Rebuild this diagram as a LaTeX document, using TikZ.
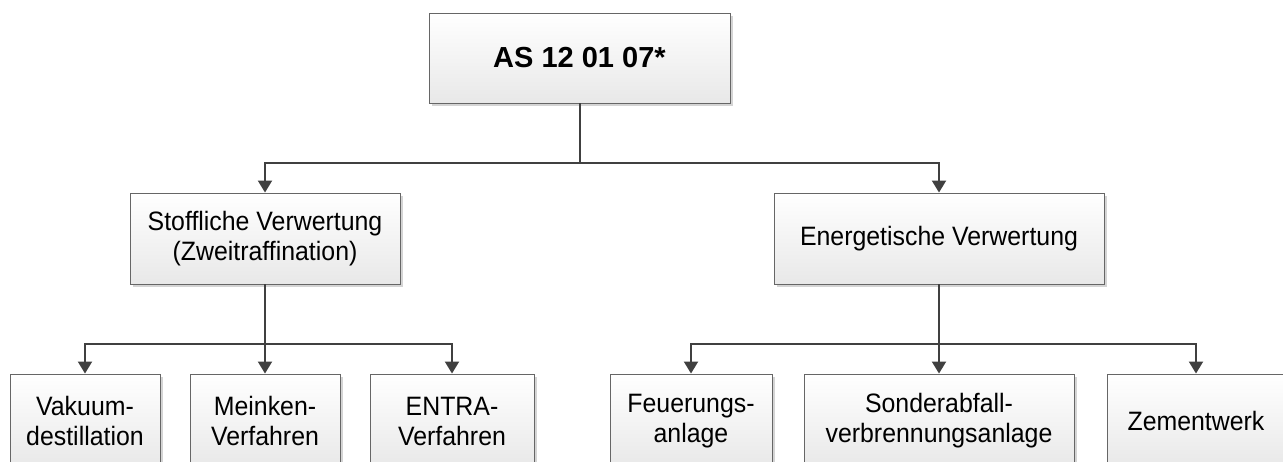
\documentclass[tikz,border=0pt]{standalone}
\usepackage{fontspec}
\setmainfont{Liberation Sans}
\newfontfamily\narrowsans[FakeStretch=0.935]{Liberation Sans}
\usetikzlibrary{arrows.meta,shadows}

\definecolor{linecol}{HTML}{404040}
\definecolor{edgecol}{HTML}{666666}
\definecolor{shadowcol}{HTML}{D4D4D4}

\tikzset{
  box/.style={draw=edgecol, line width=0.9pt, rectangle, align=center,
    top color=white, bottom color=black!9,
    font=\narrowsans\fontsize{26.6}{30}\selectfont,
    drop shadow={shadow xshift=3pt, shadow yshift=-3pt, fill=shadowcol, opacity=1},
    inner sep=2pt},
  rootbox/.style={box, font=\fontsize{29}{34}\selectfont\bfseries},
  link/.style={draw=linecol, line width=2pt},
  arrowlink/.style={link, -{Triangle[width=14pt,length=12pt]}}
}

\begin{document}
\begin{tikzpicture}[x=1pt, y=-1pt]
  \useasboundingbox (0,0) rectangle (1283,462);
  \clip (0,0) rectangle (1283,462);

  % root
  \node[rootbox, minimum width=301pt, minimum height=90pt] (root) at (579.5,58) {AS 12 01 07*};

  % second level
  \node[box, minimum width=270pt, minimum height=91pt] (stoff) at (265,238.5)
    {Stoffliche Verwertung\\(Zweitraffination)};
  \node[box, minimum width=330pt, minimum height=91pt] (energ) at (939,238.5)
    {Energetische Verwertung};

  % third level, material recovery
  \node[box, minimum width=150pt, minimum height=94pt] (vak) at (85,421) {Vakuum-\\destillation};
  \node[box, minimum width=150pt, minimum height=94pt] (mein) at (265,421) {Meinken-\\Verfahren};
  \node[box, minimum width=164pt, minimum height=94pt] (entra) at (452,421) {ENTRA-\\Verfahren};

  % third level, energy recovery
  \node[box, minimum width=162pt, minimum height=94pt] (feuer) at (691,421) {Feuerungs-\\anlage};
  \node[box, minimum width=270pt, minimum height=94pt] (sonder) at (939,421) {Sonderabfall-\\verbrennungsanlage};
  \node[box, minimum width=178pt, minimum height=94pt] (zement) at (1196,421) {Zementwerk};

  % junction points
  \coordinate (j1) at (579.5,163);
  \coordinate (j2) at (265,344);
  \coordinate (j3) at (939,344);

  % connectors
  \draw[link] (root.south) -- (j1);
  \draw[arrowlink] (j1) -| (stoff.north);
  \draw[arrowlink] (j1) -| (energ.north);

  \draw[arrowlink] (stoff.south) -- (mein.north);
  \draw[arrowlink] (j2) -| (vak.north);
  \draw[arrowlink] (j2) -| (entra.north);

  \draw[arrowlink] (energ.south) -- (sonder.north);
  \draw[arrowlink] (j3) -| (feuer.north);
  \draw[arrowlink] (j3) -| (zement.north);
\end{tikzpicture}
\end{document}
